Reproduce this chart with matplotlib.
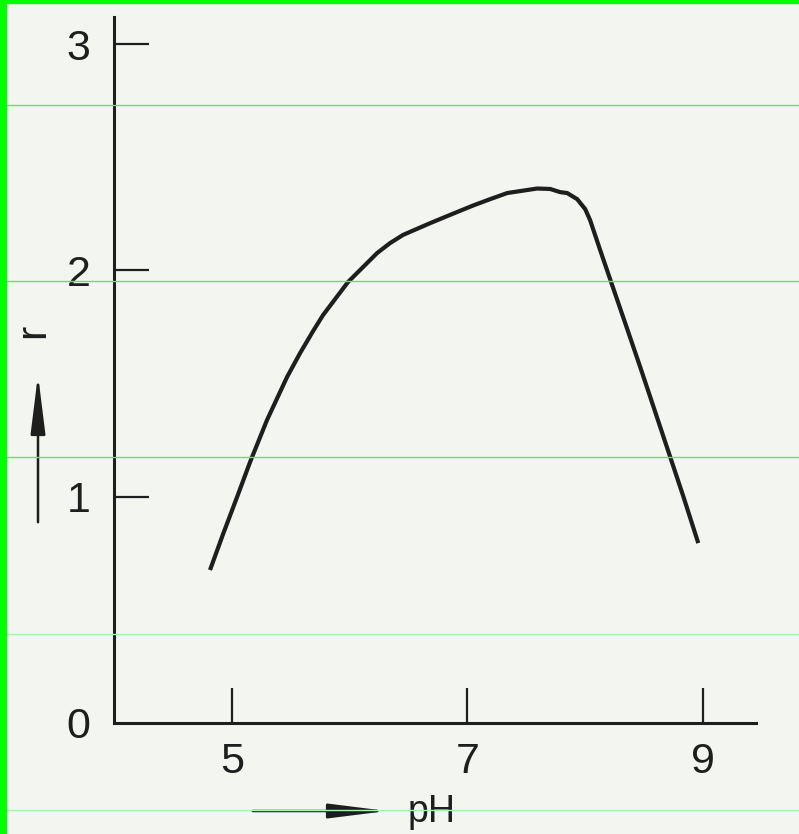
import numpy as np
import matplotlib
matplotlib.use("Agg")
import matplotlib.pyplot as plt
from matplotlib.patches import FancyArrowPatch, Rectangle

# hodnoty (r v zavislosti na pH)
ph = [4.815, 4.926, 5.045, 5.155, 5.299, 5.469, 5.580, 5.690, 5.775, 5.987,
      6.234, 6.344, 6.454, 6.684, 6.879, 7.049, 7.193, 7.338, 7.592, 7.703,
      7.788, 7.847, 7.932, 8.000, 8.042, 8.127, 8.229, 8.357, 8.467, 8.552,
      8.722, 8.832, 8.960]
r = [0.676, 0.835, 0.999, 1.153, 1.339, 1.529, 1.635, 1.732, 1.803, 1.949,
     2.077, 2.121, 2.157, 2.209, 2.251, 2.287, 2.315, 2.342, 2.362, 2.360,
     2.346, 2.342, 2.315, 2.271, 2.222, 2.090, 1.935, 1.741, 1.573, 1.441,
     1.175, 1.003, 0.795]

x_ticks = [5, 7, 9]
y_ticks = [0, 1, 2, 3]

ink = "#1e1e1e"
paper = "#f3f5f1"

plt.rcParams['font.family'] = ['Liberation Sans', 'DejaVu Sans']

W, H = 799, 834
fig = plt.figure(figsize=(W / 100, H / 100), dpi=100, facecolor=paper)
ax = fig.add_axes([114 / W, 111 / H, 642 / W, 706 / H])
ax.set_facecolor(paper)

ax.plot(ph, r, color=ink, lw=3.0, solid_capstyle='butt', solid_joinstyle='round')

ax.set_xlim(4.0, 9.45)
ax.set_ylim(0, 3.12)
ax.spines['top'].set_visible(False)
ax.spines['right'].set_visible(False)
for s in ('left', 'bottom'):
    ax.spines[s].set_linewidth(2.2)
    ax.spines[s].set_color(ink)

ax.set_xticks(x_ticks)
ax.set_yticks(y_ticks)
ax.set_yticklabels([str(v) for v in y_ticks])
ax.tick_params(axis='x', direction='in', length=25, width=1.6, color=ink,
               labelsize=31, pad=14, labelcolor=ink)
ax.tick_params(axis='y', direction='in', length=25, width=1.6, color=ink,
               labelsize=31, pad=17, labelcolor=ink)
# nula je trochu nad osou x
ax.get_yticklabels()[0].set_y(0.04)
ax.yaxis.get_major_ticks()[0].tick1line.set_visible(False)

# popisky os se sipkami
fig.text(33 / W, 1 - 331 / H, "r", rotation=90, fontsize=31, color=ink,
         ha='center', va='center')
fig.add_artist(FancyArrowPatch(
    (38 / W, 1 - 525 / H), (38 / W, 1 - 372 / H), transform=fig.transFigure,
    arrowstyle='-|>,head_length=2.4,head_width=0.3', color=ink, lw=1.8,
    mutation_scale=15))

fig.text(432 / W, 1 - 812 / H, "pH", fontsize=27, color=ink,
         ha='center', va='center')
fig.add_artist(FancyArrowPatch(
    (250 / W, 1 - 811 / H), (390 / W, 1 - 811 / H), transform=fig.transFigure,
    arrowstyle='-|>,head_length=2.4,head_width=0.3', color=ink, lw=1.8,
    mutation_scale=15))

# zelene linky ze skenu
for yy, c in [(105, "#4ff04f"), (281, "#4ff04f"), (457, "#4ff04f"),
              (634, "#a8f5a8"), (810, "#a8f5a8")]:
    fig.add_artist(plt.Line2D([0, 1], [1 - yy / H] * 2, color=c, lw=1.0,
                              transform=fig.transFigure, zorder=10))
fig.add_artist(Rectangle((0, 0), 6 / W, 1, color="#00ff00",
                         transform=fig.transFigure, zorder=11))
fig.add_artist(Rectangle((0, 1 - 3 / H), 1, 3 / H, color="#00ff00",
                         transform=fig.transFigure, zorder=11))

fig.savefig("out.png", dpi=100, facecolor=paper)
